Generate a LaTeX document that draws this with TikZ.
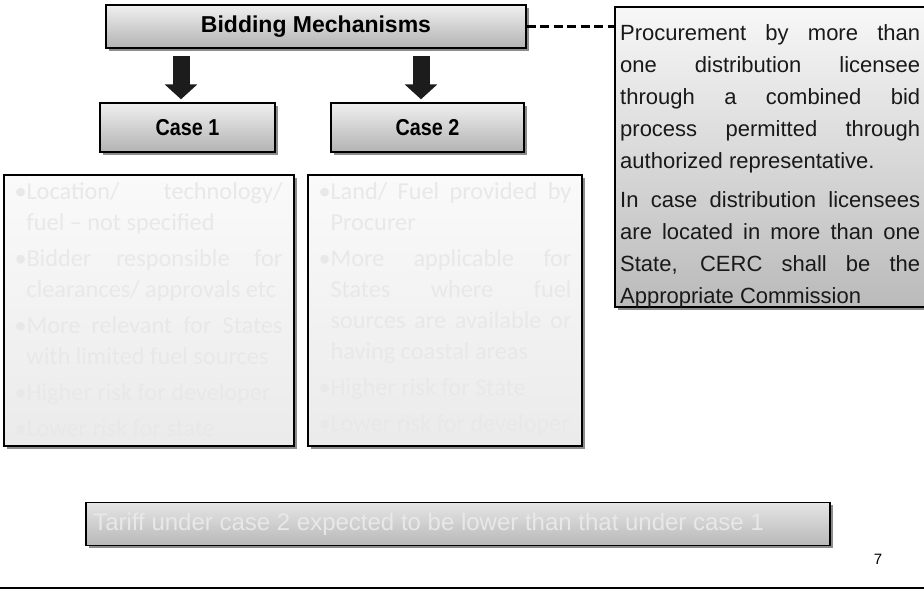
\documentclass[tikz,border=0pt]{standalone}
\usepackage{fontspec}
\setmainfont{Carlito}
\newfontfamily\hdrfont{Liberation Sans}
\newfontfamily\casefont[FakeStretch=0.86]{Liberation Sans}
\newfontfamily\notefont{Liberation Sans}
\usetikzlibrary{shadows,arrows.meta,calc}
\definecolor{faint}{HTML}{E8E8E8}
\definecolor{blk}{HTML}{1C1C1C}
\hyphenpenalty=10000
\exhyphenpenalty=10000
\newcommand\bitem[1]{\par\noindent\hangindent=12pt\hangafter=1\makebox[12pt][l]{\textbullet}#1}
\begin{document}
\begin{tikzpicture}[x=1pt,y=-1pt,
  shd/.style={drop shadow={shadow xshift=2.5pt,shadow yshift=-2.5pt,fill=black!45,opacity=1}},
  hbox/.style={draw=black,line width=1.4pt,shade,top color=white!94!black,bottom color=white!70!black,shd,
    text=black,inner sep=0pt},
  listbox/.style={draw=black,line width=1.4pt,shade,top color=white!98!black,bottom color=white!92!black,shd,inner sep=0pt},
  listtxt/.style={anchor=north west,inner sep=0pt,text=faint,font=\fontsize{24.3}{31}\selectfont},
  blockarrow/.style={draw=blk,line width=17pt,-{Triangle[width=32pt,length=15pt]}},
  dashline/.style={draw=black,line width=2.5pt,dash pattern=on 9pt off 4.5pt}]
\useasboundingbox (0,0) rectangle (924,590);
\fill[white] (0,0) rectangle (924,590);

% header and cases
\node[hbox,minimum width=420pt,minimum height=43pt,font=\hdrfont\bfseries\fontsize{23}{26}\selectfont] (bm) at (316,26.5) {Bidding Mechanisms};
\node[hbox,minimum width=175pt,minimum height=49pt,font=\casefont\bfseries\fontsize{23}{26}\selectfont] (c1) at (187.5,127.5) {Case 1};
\node[hbox,minimum width=193pt,minimum height=49pt,font=\casefont\bfseries\fontsize{23}{26}\selectfont] (c2) at (427.5,127.5) {Case 2};

\draw[blockarrow] ([xshift=-6.5pt,yshift=-7pt]bm.south -| c1.north) -- ([xshift=-6.5pt,yshift=3pt]c1.north);
\draw[blockarrow] ([xshift=-6.5pt,yshift=-7pt]bm.south -| c2.north) -- ([xshift=-6.5pt,yshift=3pt]c2.north);

% right box
\node[draw=black,line width=1.4pt,shade,top color=white!97!black,bottom color=white!73!black,shd,
  minimum width=315pt,minimum height=300pt,inner sep=0pt] (rb) at (772.5,157) {};
\node[anchor=base west,inner sep=0pt,text=black!90] (rt) at (620,40) {\parbox[t]{300pt}{\notefont\fontsize{22}{32}\selectfont
Procurement by more than\linebreak one distribution licensee\linebreak through a combined bid\linebreak process permitted through\linebreak authorized representative.\par\vspace{7pt}
In case distribution licensees\linebreak are located in more than one\linebreak State, CERC shall be the\linebreak Appropriate Commission}};

\draw[dashline] (bm.east) -- (bm.east -| rb.west);

% list boxes
\node[listbox,minimum width=290pt,minimum height=271pt] (l1) at (149,310.5) {};
\node[listbox,minimum width=274pt,minimum height=271pt] (l2) at (445,310.5) {};

\node[listtxt] (t1) at ([xshift=11pt,yshift=-8pt]l1.north west) {\parbox{268pt}{\setlength{\parskip}{5pt}\sloppy
\bitem{Location/ technology/\linebreak fuel -- not specified}
\bitem{Bidder responsible for\linebreak clearances/ approvals etc}
\bitem{More relevant for States\linebreak with limited fuel sources}
\bitem{Higher risk for developer}
\bitem{Lower risk for state}}};

\node[listtxt] (t2) at ([xshift=11pt,yshift=-8pt]l2.north west) {\parbox{253pt}{\setlength{\parskip}{5pt}\sloppy
\bitem{Land/ Fuel provided by\linebreak Procurer}
\bitem{More applicable for\linebreak States where fuel\linebreak sources are available or\linebreak having coastal areas}
\bitem{Higher risk for State}
\bitem{Lower risk for developer}}};

% bottom box
\node[draw=black,line width=1.8pt,shade,top color=white!90!black,bottom color=white!72!black,shd,
  minimum width=744pt,minimum height=43pt,inner sep=0pt] (bb) at (458,524) {};
\node[anchor=west,inner sep=0pt,text=faint,font=\notefont\fontsize{24}{26}\selectfont] (bt) at ([xshift=8pt]bb.west) {Tariff under case 2 expected to be lower than that under case 1};

\node[font=\notefont\fontsize{15}{17}\selectfont,text=black] (pg) at (878,559) {7};
\coordinate (la) at (0,588);
\coordinate (lb) at (924,588);
\draw[line width=2pt] (la) -- (lb);
\end{tikzpicture}
\end{document}
